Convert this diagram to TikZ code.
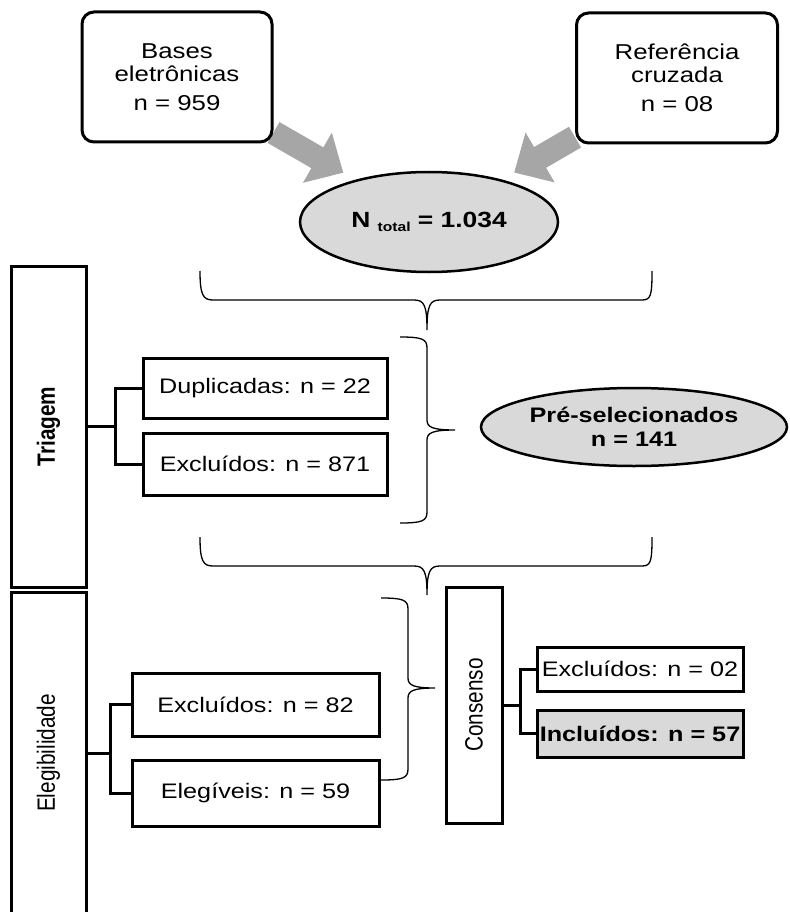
\documentclass[tikz,border=0pt]{standalone}
\usepackage{fontspec}
\setmainfont{Liberation Sans}[FakeStretch=1.2]
\newfontfamily\rotfont{Liberation Sans}[FakeStretch=0.83]
\usetikzlibrary{shapes,arrows.meta,backgrounds,positioning}
\definecolor{arrowgray}{RGB}{166,166,166}
\definecolor{lightfill}{RGB}{217,217,217}
\tikzset{
	srcbox/.style={draw, line width=3pt, rounded corners=12pt, fill=white, align=center, inner sep=0pt, font=\fontsize{21.5}{23}\selectfont},
	countbox/.style={draw, line width=3pt, fill=white, align=center, inner sep=0pt, font=\fontsize{21}{24}\selectfont},
	stagebox/.style={draw, line width=3pt, fill=white, inner sep=0pt, font=\rotfont\fontsize{25}{25}\selectfont},
	total/.style={ellipse, draw, line width=2.5pt, fill=lightfill, inner sep=0pt, align=center, font=\bfseries\fontsize{22}{24}\selectfont},
	bigarrow/.style={-{Triangle[width=56pt,length=30pt]}, line width=24pt, color=arrowgray, shorten >=14pt},
	tree/.style={line width=3pt},
	brace/.style={line width=1.3pt}
}

\begin{document}
\begin{tikzpicture}[x=1pt,y=-1pt]
	\useasboundingbox (0,0) rectangle (789,912);
	
	% identificacao
	\node [srcbox, minimum width=190, minimum height=130] (bases) at (177,77) {Bases\\eletrônicas\\[6pt]n = 959};
	\node [srcbox, minimum width=201, minimum height=130] (cruzada) at (677,78) {Referência\\cruzada\\[6pt]n = 08};
	\node [total, minimum width=258, minimum height=100] (ntotal) at (429,222) {N \raisebox{-4pt}{\fontsize{13}{13}\selectfont total} = 1.034};
	
	\begin{scope}[on background layer]
		\draw [bigarrow] (bases) -- (ntotal);
		\draw [bigarrow] (cruzada) -- (ntotal);
	\end{scope}
	
	% triagem
	\node [stagebox, minimum width=75, minimum height=321] (triagem) at (48.5,426.5) {\rotatebox{90}{\bfseries Triagem}};
	\node [countbox, minimum width=244, minimum height=60] (dup) at (265,388) {Duplicadas: n = 22};
	\node [countbox, minimum width=244, minimum height=62] (exc1) at (265,464) {Excluídos: n = 871};
	\node [total, minimum width=306, minimum height=78, font=\bfseries\fontsize{21}{24}\selectfont] (presel) at (634,427) {Pré-selecionados\\n = 141};
	
	\draw [tree] (triagem.east) -- ++(28,0) |- (dup.west);
	\draw [tree] (triagem.east) ++(28,0) |- (exc1.west);
	
	% elegibilidade
	\node [stagebox, minimum width=75, minimum height=322] (elegib) at (48.5,753) {\rotatebox{90}{Elegibilidade}};
	\node [countbox, minimum width=247, minimum height=63] (exc2) at (255.5,704.5) {Excluídos: n = 82};
	\node [countbox, minimum width=247, minimum height=66] (eleg) at (255.5,793) {Elegíveis: n = 59};
	\node [stagebox, minimum width=56, minimum height=236] (consenso) at (474,705) {\rotatebox{90}{Consenso}};
	\node [countbox, minimum width=206, minimum height=44] (exc3) at (640,669) {Excluídos: n = 02};
	\node [countbox, minimum width=206, minimum height=47, fill=lightfill, font=\bfseries\fontsize{21}{24}\selectfont] (incl) at (640,733.5) {Incluídos: n = 57};
	
	\draw [tree] (elegib.east) -- ++(23,0) |- (exc2.west);
	\draw [tree] (elegib.east) ++(23,0) |- (eleg.west);
	\draw [tree] (consenso.east) -- ++(17,0) |- (exc3.west);
	\draw [tree] (consenso.east) ++(17,0) |- (incl.west);
	
	% chaves
	\draw [brace] (200,271) .. controls (200,295) and (203,300) .. (213,300) -- (414,300) .. controls (424,300) and (427,305) .. (427,330) .. controls (427,305) and (430,300) .. (440,300) -- (642,300) .. controls (651,300) and (652,295) .. (652,271);
	\draw [brace] (400,337) .. controls (422,337) and (427,339) .. (427,348) -- (427,420) .. controls (427,427) and (432,430) .. (455,430) .. controls (432,430) and (427,433) .. (427,440) -- (427,512) .. controls (427,521) and (422,523) .. (400,523);
	\draw [brace] (200,537) .. controls (200,561) and (203,566) .. (213,566) -- (414,566) .. controls (424,566) and (427,571) .. (427,595) .. controls (427,571) and (430,566) .. (440,566) -- (642,566) .. controls (651,566) and (652,561) .. (652,537);
	\draw [brace] (381,598) .. controls (403,598) and (408,600) .. (408,609) -- (408,678) .. controls (408,685) and (413,688) .. (435,688) .. controls (413,688) and (408,691) .. (408,698) -- (408,769) .. controls (408,778) and (403,780) .. (381,780);
	
\end{tikzpicture}
\end{document}
